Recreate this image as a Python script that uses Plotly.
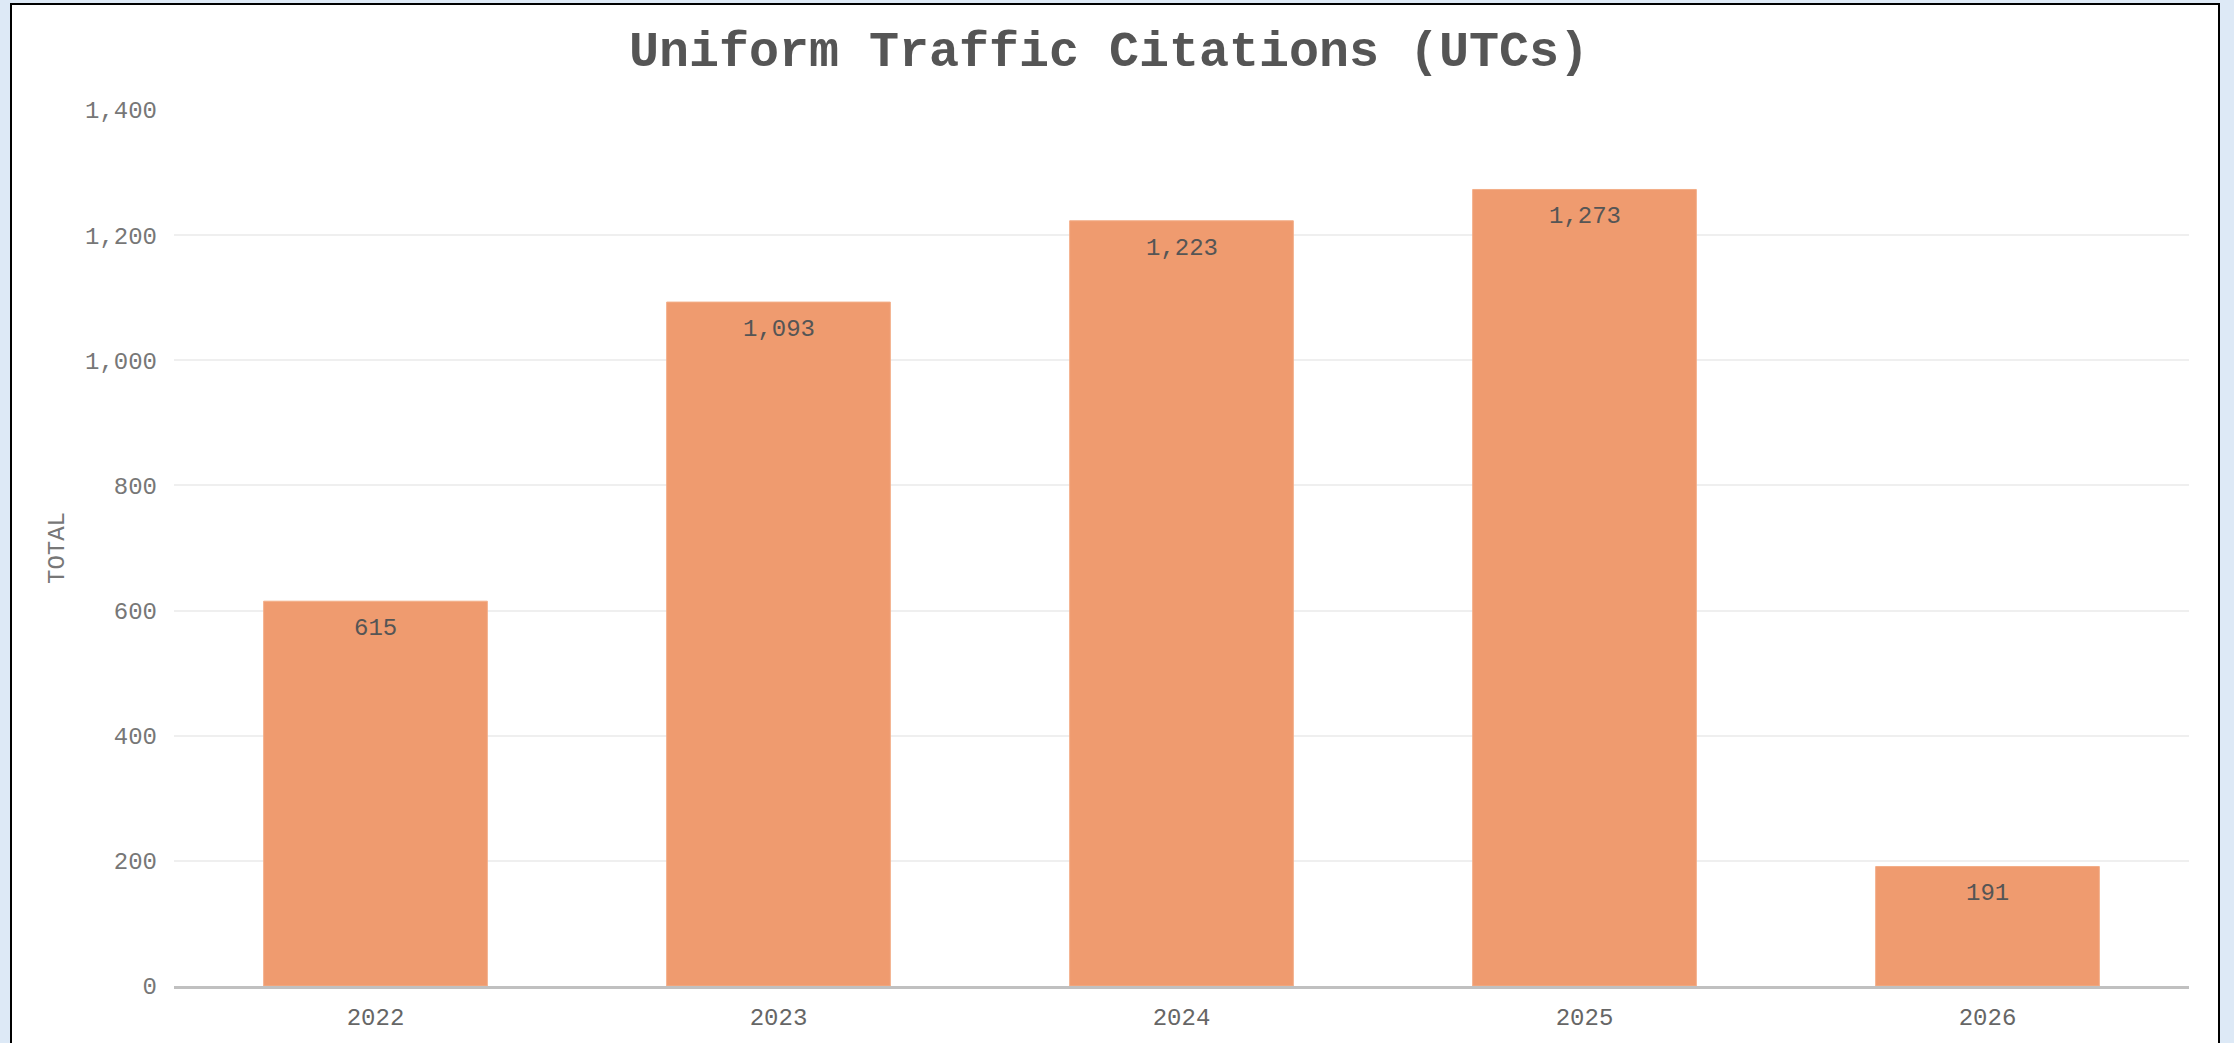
import plotly.graph_objects as go

years = ["2022", "2023", "2024", "2025", "2026"]
totals = [615, 1093, 1223, 1273, 191]
y_ticks = [0, 200, 400, 600, 800, 1000, 1200, 1400]

FONT = "Courier New, Nimbus Mono PS, FreeMono, Liberation Mono, monospace"

W, H = 2234, 1043
L, R, T, B = 174, W - 2189, 110, H - 986
pw, ph = W - L - R, H - T - B

fig = go.Figure()
fig.add_trace(go.Bar(
    x=years, y=totals,
    marker=dict(color="#EF9B6F", line=dict(color="#F3AE88", width=1)),
    hoverinfo="x+y",
))

# value labels just inside the top of each bar (category index positions)
for i, v in enumerate(totals):
    fig.add_annotation(
        x=i, y=v, xref="x", yref="y",
        text=f"{v:,}", showarrow=False,
        yanchor="top", yshift=-12,
        font=dict(family=FONT, size=24, color="#555555"),
    )

# white card with black border on light-blue page
fig.add_shape(
    type="rect", xref="paper", yref="paper", layer="below",
    x0=(11 - L) / pw, x1=(2219 - L) / pw,
    y0=(T + ph - 1060) / ph, y1=(T + ph - 4) / ph,
    fillcolor="white", line=dict(color="black", width=2),
)

fig.update_layout(
    width=W, height=H,
    margin=dict(l=L, r=R, t=T, b=B, pad=0),
    paper_bgcolor="#DDE9F6",
    plot_bgcolor="rgba(0,0,0,0)",
    showlegend=False,
    bargap=0.445,
    title=dict(
        text="<b>Uniform Traffic Citations (UTCs)</b>",
        x=1109 / W, xanchor="center", xref="container",
        y=1 - 48 / H, yanchor="middle", yref="container",
        font=dict(family=FONT, size=50, color="#555555"),
    ),
    font=dict(family=FONT, size=24, color="#777777"),
)

fig.update_xaxes(
    type="category", range=[-0.5, len(years) - 0.5],
    showgrid=False, showline=True, linecolor="#C0C0C0", linewidth=3,
    ticks="", tickfont=dict(family=FONT, size=24, color="#666666"),
    ticklabelstandoff=7,
)
fig.update_yaxes(
    range=[0, 1400], tickvals=y_ticks, tickformat=",",
    showgrid=True, gridcolor="#EFEFEF", gridwidth=2,
    zeroline=False, showline=False, ticks="",
    tickfont=dict(family=FONT, size=24, color="#777777"),
    ticklabelstandoff=16,
    title=dict(text="TOTAL", font=dict(family=FONT, size=24, color="#777777"), standoff=13),
)

fig.write_html(
    "out.html",
    config={"displayModeBar": False},
    post_script="document.body.style.margin='0';document.body.style.overflow='hidden';document.body.style.background='#DDE9F6';",
)
